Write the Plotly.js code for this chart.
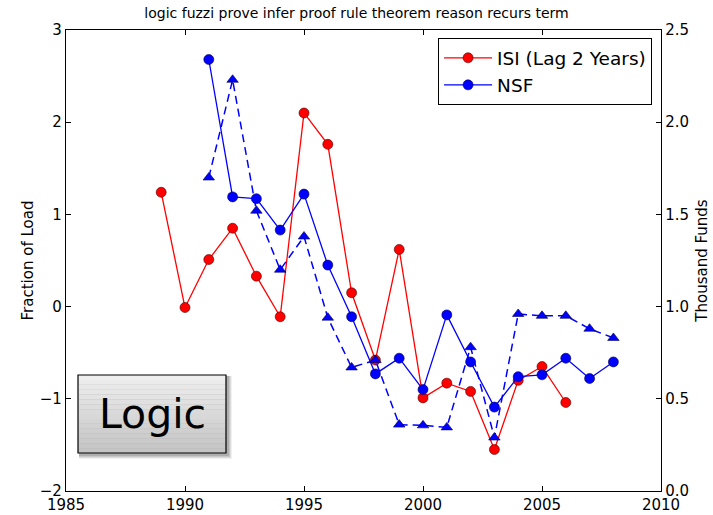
<!DOCTYPE html>
<html>
<head>
<meta charset="utf-8">
<script src="https://cdn.plot.ly/plotly-3.0.1.min.js"></script>
<style>html,body{margin:0;padding:0;background:#fff;}#chart{width:713px;height:515px;}</style>
</head>
<body>
<div id="chart"></div>
<script>
// ---- Data ----
var isiYears = [1989,1990,1991,1992,1993,1994,1995,1996,1997,1998,1999,2000,2001,2002,2003,2004,2005,2006];
var isiValues = [1.24,-0.01,0.51,0.85,0.33,-0.11,2.10,1.76,0.15,-0.58,0.62,-0.99,-0.83,-0.92,-1.55,-0.80,-0.65,-1.04];

var nsfYears = [1991,1992,1993,1994,1995,1996,1997,1998,1999,2000,2001,2002,2003,2004,2005,2006,2007,2008];
var nsfValues = [2.68,1.19,1.17,0.83,1.22,0.45,-0.11,-0.73,-0.56,-0.90,-0.09,-0.60,-1.09,-0.76,-0.74,-0.56,-0.78,-0.60];

var fundYears = [1991,1992,1993,1994,1995,1996,1997,1998,1999,2000,2001,2002,2003,2004,2005,2006,2007,2008];
var fundValues = [1.70,2.23,1.52,1.20,1.38,0.94,0.67,0.71,0.36,0.356,0.345,0.78,0.29,0.96,0.95,0.95,0.88,0.83];

var titleText = "logic fuzzi prove infer proof rule theorem reason recurs term";
var leftTitle = "Fraction of Load";
var rightTitle = "Thousand Funds";
var boxLabel = "Logic";

// ---- Traces ----
var traces = [
  {x: isiYears, y: isiValues, name: "ISI (Lag 2 Years)", type: "scatter", mode: "lines+markers",
   line: {color: "#ff0000", width: 1.3},
   marker: {color: "#ff0000", size: 10, line: {color: "#4a0000", width: 0.6}}},
  {x: nsfYears, y: nsfValues, name: "NSF", type: "scatter", mode: "lines+markers",
   line: {color: "#0000ff", width: 1.3},
   marker: {color: "#0000ff", size: 10, line: {color: "#00004a", width: 0.6}}},
  {x: fundYears, y: fundValues, name: "Funds", type: "scatter", mode: "lines+markers", yaxis: "y2",
   showlegend: false,
   line: {color: "#0000ff", width: 1.5, dash: "8px,5px"},
   marker: {symbol: "triangle-up", color: "#0000ff", size: 10, line: {color: "#00004a", width: 0.6}}}
];

// ---- Decorative "Logic" box (paper coords) ----
var W = 595, H = 461; // plot area in px
function px(x){ return (x - 66) / W; }
function py(y){ return (491 - y) / H; }
var bx0 = 78, bx1 = 226, by0 = 375, by1 = 453;
var shapes = [];
// soft shadow
var shadowSteps = [[6,0.06],[5,0.08],[4,0.1],[3,0.12]];
shadowSteps.forEach(function(s){
  var o = s[0];
  shapes.push({type:"rect", xref:"paper", yref:"paper", layer:"above",
    x0: px(bx0 + 1), x1: px(bx1 + o), y0: py(by1 + o), y1: py(by0 + 1),
    fillcolor: "rgba(0,0,0," + s[1] + ")", line: {width: 0}});
});
// gradient fill
var N = 16;
for (var i = 0; i < N; i++) {
  var t = i / (N - 1);
  var c = Math.round(238 - t * (238 - 196));
  var ya = by0 + (by1 - by0) * i / N, yb = by0 + (by1 - by0) * (i + 1) / N;
  shapes.push({type:"rect", xref:"paper", yref:"paper", layer:"above",
    x0: px(bx0), x1: px(bx1), y0: py(yb), y1: py(ya),
    fillcolor: "rgb(" + c + "," + c + "," + c + ")", line: {width: 0}});
}
shapes.push({type:"rect", xref:"paper", yref:"paper", layer:"above",
  x0: px(bx0), x1: px(bx1), y0: py(by1), y1: py(by0),
  fillcolor: "rgba(0,0,0,0)", line: {color: "#000", width: 1.2}});

var font = "DejaVu Sans, Liberation Sans, sans-serif";

var layout = {
  width: 713, height: 515,
  margin: {l: 66, r: 52, t: 30, b: 24},
  paper_bgcolor: "#fff", plot_bgcolor: "#fff",
  font: {family: font, color: "#000", size: 15},
  title: {text: titleText, font: {family: font, size: 14, color: "#000"},
          x: 0.5, xanchor: "center", y: 0.985, yanchor: "top"},
  showlegend: true,
  legend: {x: 0.985, xanchor: "right", y: 0.982, yanchor: "top",
           bgcolor: "#fff", bordercolor: "#000", borderwidth: 1,
           font: {family: font, size: 18.5}, itemwidth: 48, tracegroupgap: 0},
  xaxis: {range: [1985, 2010], dtick: 5, tick0: 1985, tickformat: "d",
          showgrid: false, zeroline: false, showline: true, linecolor: "#000", linewidth: 1.2,
          mirror: "ticks", ticks: "inside", ticklen: 5, tickcolor: "#000",
          tickfont: {size: 15}},
  yaxis: {range: [-2, 3], dtick: 1, tick0: -2,
          title: {text: leftTitle, font: {size: 15}, standoff: 2},
          showgrid: false, zeroline: false, showline: true, linecolor: "#000", linewidth: 1.2,
          ticks: "inside", ticklen: 5, tickcolor: "#000", tickfont: {size: 15}},
  yaxis2: {range: [0, 2.5], dtick: 0.5, tick0: 0, tickformat: ".1f", overlaying: "y", side: "right",
           title: {text: rightTitle, font: {size: 15}, standoff: 8},
           showgrid: false, zeroline: false, showline: true, linecolor: "#000", linewidth: 1.2,
           ticks: "inside", ticklen: 5, tickcolor: "#000", tickfont: {size: 15}},
  shapes: shapes,
  annotations: [{text: boxLabel, xref: "paper", yref: "paper",
    x: px((bx0 + bx1) / 2), y: py((by0 + by1) / 2), xanchor: "center", yanchor: "middle",
    showarrow: false, font: {family: font, size: 41, color: "#000"}}]
};

Plotly.newPlot("chart", traces, layout, {displayModeBar: false, staticPlot: true});
</script>
</body>
</html>
